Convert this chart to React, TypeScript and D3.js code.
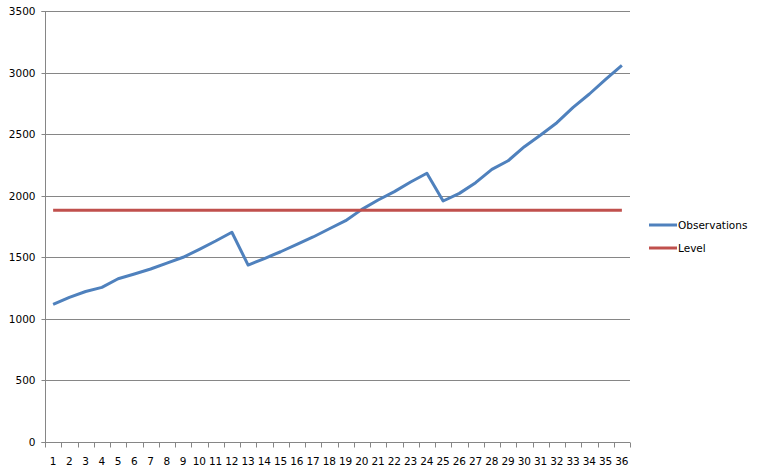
import { useRef, useEffect } from "react";
import * as d3 from "d3";

const periods = d3.range(1, 37);
const observations = [
  1118, 1175, 1222, 1256, 1326, 1364, 1405, 1453, 1500, 1565, 1632, 1703,
  1437, 1490, 1545, 1605, 1665, 1732, 1797, 1889, 1965, 2033, 2111, 2182,
  1957, 2019, 2106, 2214, 2284, 2398, 2493, 2593, 2718, 2826, 2945, 3059,
];
const level = periods.map(() => 1882);
const yTicks = [0, 500, 1000, 1500, 2000, 2500, 3000, 3500];
const seriesNames = ["Observations", "Level"];
const colors = ["#4F81BD", "#C0504D"];

const W = 757;
const H = 471;

const App = () => {
  const svgRef = useRef<SVGSVGElement | null>(null);

  useEffect(() => {
    if (!svgRef.current) return;
    const svg = d3.select(svgRef.current);
    svg.selectAll("*").remove();

    const margin = { top: 11, right: 127, bottom: 29, left: 45 };
    const innerWidth = W - margin.left - margin.right;
    const innerHeight = H - margin.top - margin.bottom;
    const font = "'DejaVu Sans', Verdana, sans-serif";

    const x = d3
      .scaleBand<number>()
      .domain(periods)
      .range([0, innerWidth])
      .padding(0);
    const y = d3.scaleLinear().domain([0, 3500]).range([innerHeight, 0]);
    const cx = (d: number) => x(d)! + x.bandwidth() / 2;

    const g = svg
      .append("g")
      .attr("transform", `translate(${margin.left},${margin.top})`);

    // 가로 격자선
    g.append("g")
      .selectAll("line")
      .data(yTicks.filter((t) => t > 0))
      .enter()
      .append("line")
      .attr("x1", 0)
      .attr("x2", innerWidth)
      .attr("y1", (d) => Math.round(y(d)) + 0.5)
      .attr("y2", (d) => Math.round(y(d)) + 0.5)
      .attr("stroke", "#868686")
      .attr("stroke-width", 1);

    // Y축
    const yAxis = d3
      .axisLeft(y)
      .tickValues(yTicks)
      .tickFormat(d3.format("d"))
      .tickSize(4)
      .tickPadding(6);
    const ya = g.append("g").attr("transform", "translate(0.5,0)").call(yAxis);
    ya.selectAll("path, line").attr("stroke", "#868686");
    ya.selectAll("text")
      .attr("font-family", font)
      .attr("font-size", "10.5px")
      .attr("fill", "#000");
    ya.selectAll(".tick").attr(
      "transform",
      (d: any) => `translate(0,${Math.round(y(d)) + 0.5})`
    );
    ya.select(".domain").attr("d", `M-4,0.5H0V${innerHeight + 0.5}H-4`);

    // X축
    const xa = g
      .append("g")
      .attr("transform", `translate(0,${Math.round(innerHeight) + 0.5})`);
    xa.append("line")
      .attr("x1", 0)
      .attr("x2", innerWidth)
      .attr("stroke", "#868686");
    xa.selectAll("line.tk")
      .data(d3.range(0, periods.length + 1))
      .enter()
      .append("line")
      .attr("class", "tk")
      .attr("x1", (i) => Math.round(i * x.bandwidth()) + 0.5)
      .attr("x2", (i) => Math.round(i * x.bandwidth()) + 0.5)
      .attr("y1", 0)
      .attr("y2", 5)
      .attr("stroke", "#868686");
    xa.selectAll("text")
      .data(periods)
      .enter()
      .append("text")
      .attr("x", (d) => cx(d))
      .attr("y", 22)
      .attr("text-anchor", "middle")
      .attr("font-family", font)
      .attr("font-size", "10.5px")
      .attr("fill", "#000")
      .text((d) => d);

    // 선
    const line = d3
      .line<number>()
      .x((_, i) => cx(periods[i]))
      .y((d) => y(d));
    [observations, level].forEach((vals, i) => {
      g.append("path")
        .datum(vals)
        .attr("d", line)
        .attr("fill", "none")
        .attr("stroke", colors[i])
        .attr("stroke-width", 3)
        .attr("stroke-linejoin", "round");
    });

    // 범례
    const legend = svg.append("g").attr("transform", "translate(649,225)");
    seriesNames.forEach((name, i) => {
      const row = legend.append("g").attr("transform", `translate(0,${i * 23})`);
      row
        .append("line")
        .attr("x1", 0)
        .attr("x2", 28)
        .attr("stroke", colors[i])
        .attr("stroke-width", 3);
      row
        .append("text")
        .attr("x", 29)
        .attr("y", 4)
        .attr("font-family", font)
        .attr("font-size", "10.5px")
        .attr("fill", "#000")
        .text(name);
    });
  }, []);

  return (
    <div style={{ position: "absolute", left: 0, top: 0 }}>
      <svg ref={svgRef} width={W} height={H} style={{ display: "block", background: "#fff" }}></svg>
    </div>
  );
};

export default App;
